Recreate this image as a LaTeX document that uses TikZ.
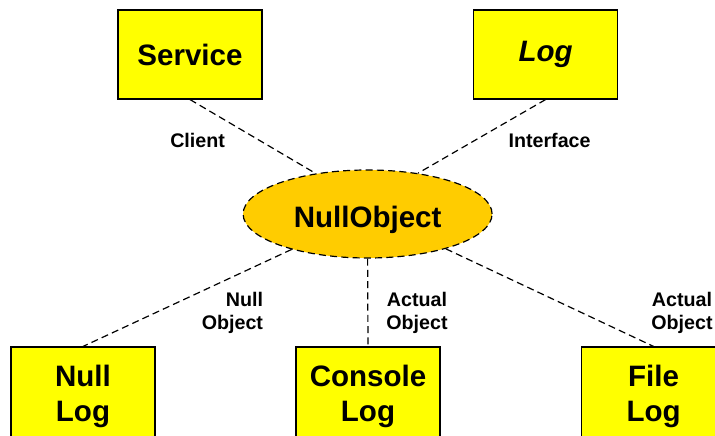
\documentclass[tikz,border=0pt]{standalone}
\usepackage{fontspec}
\setmainfont{Liberation Sans}
\usetikzlibrary{shapes.geometric}
\definecolor{boxyel}{HTML}{FFFF00}
\definecolor{nullgold}{HTML}{FFCC00}

\begin{document}
\begin{tikzpicture}[
  cls/.style={draw=black, fill=boxyel, line width=0.8pt, minimum width=3.6cm, minimum height=2.225cm, inner sep=0pt, align=center, font=\fontsize{21}{25}\selectfont\bfseries},
  nullobj/.style={ellipse, draw=black, fill=nullgold, line width=0.85pt, dash pattern=on 5pt off 3pt, minimum width=6.225cm, minimum height=2.2cm, inner sep=0pt, font=\fontsize{21}{25}\selectfont\bfseries},
  lbl/.style={font=\fontsize{14}{16.5}\selectfont\bfseries, align=center},
  link/.style={line width=0.85pt, dash pattern=on 5pt off 3pt},
]

\useasboundingbox (0,0) rectangle (17.875,10.875);
\clip (0,0) rectangle (17.875,10.875);

\node[cls] (svc) at (4.75, 9.5125) {Service};
\node[cls] (logif) at (13.64, 9.5125) {\itshape Log};
\node[nullobj] (nobj) at (9.19, 5.525) {\raisebox{-0.15cm}[\height][\depth]{NullObject}};
\node[cls, minimum height=2.475cm] (nulllog) at (2.075, 0.9625) {Null\\Log};
\node[cls, minimum height=2.475cm] (conslog) at (9.2, 0.9625) {Console\\Log};
\node[cls, minimum height=2.475cm] (filelog) at (16.34, 0.9625) {File\\Log};

\node[lbl] (lclient) at (4.94, 7.375) {Client};
\node[lbl] (liface) at (13.74, 7.375) {Interface};
\node[lbl, anchor=east, align=right] (lnull) at (6.7, 3.05) {Null\\Object};
\node[lbl] (lcons) at (10.425, 3.05) {Actual\\Object};
\node[lbl] (lfile) at (17.05, 3.05) {Actual\\Object};

\draw[link] (svc.south) -- (nobj.142);
\draw[link] (logif.south) -- (nobj.39);
\draw[link] (nobj.205) -- (nulllog.north);
\draw[link] (nobj.south) -- (conslog.north);
\draw[link] (nobj.336) -- (filelog.north);

\end{tikzpicture}
\end{document}
